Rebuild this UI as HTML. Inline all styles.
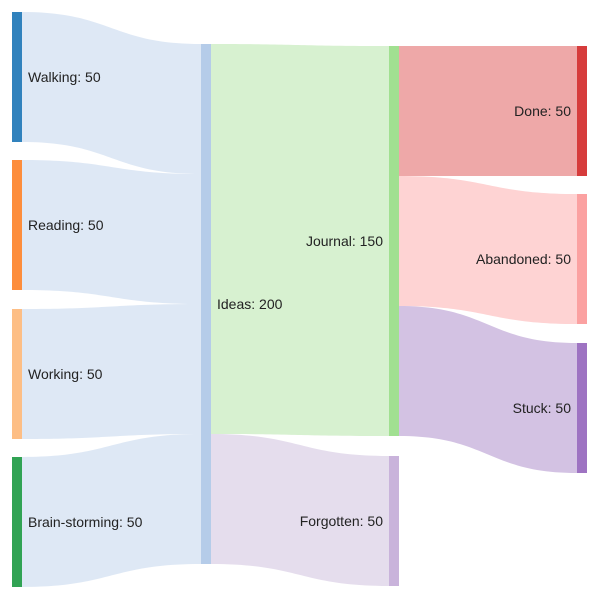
<!DOCTYPE html>
<html><head><meta charset="utf-8"><style>
html,body{margin:0;padding:0;background:#fff;width:600px;height:600px;overflow:hidden}
svg text{font-family:"Liberation Sans",Arial,sans-serif;font-size:14px;fill:#222}
</style></head><body>
<svg id="c" width="600" height="600"></svg>
<script>
const nodeNames=["Walking","Reading","Working","Brain-storming","Ideas","Journal","Forgotten","Done","Abandoned","Stuck"];
const nodeColumns=[0,0,0,0,1,2,2,3,3,3];
const nodeTops=[12,160,309,457,44,46,456,46,194,343];
const nodeColors=["#3182bd","#fd8d3c","#fdbe85","#31a354","#b5cce9","#a1e091","#c9b3db","#d63c3c","#fba1a1","#9e73c2"];
const linkColors=["#dde7f4","#dde7f4","#dde7f4","#dde7f4","#b5cce9","#d7f1d0","#e5dded","#eea8a8","#fed3d3","#d3c2e3"];
const linkSources=[0,1,2,3,4,4,5,5,5];
const linkTargets=[4,4,4,4,5,6,7,8,9];
const linkValues=[50,50,50,50,150,50,50,50,50];
const colX=[12,201,389,577], nodeW=10, k=2.6;
const svg=document.getElementById('c'), NS="http://www.w3.org/2000/svg";
const val=nodeNames.map((n,i)=>{let a=0,b=0;linkValues.forEach((v,j)=>{if(linkSources[j]===i)a+=v;if(linkTargets[j]===i)b+=v;});return Math.max(a,b);});
const outOff=nodeTops.slice(), inOff=nodeTops.slice();
const gL=document.createElementNS(NS,'g');svg.appendChild(gL);
linkValues.forEach((v,j)=>{
  const s=linkSources[j],t=linkTargets[j],h=v*k;
  const x0=colX[nodeColumns[s]]+nodeW,x1=colX[nodeColumns[t]];
  const y0=outOff[s],y1=inOff[t];outOff[s]+=h;inOff[t]+=h;
  const xm=(x0+x1)/2;
  const p=document.createElementNS(NS,'path');
  p.setAttribute('d',`M${x0},${y0}C${xm},${y0} ${xm},${y1} ${x1},${y1}L${x1},${y1+h}C${xm},${y1+h} ${xm},${y0+h} ${x0},${y0+h}Z`);
  p.setAttribute('fill',linkColors[t]);p.setAttribute('opacity',t===4?0.45:1);
  if(t===4)p.setAttribute('fill','#b5cce9');
  
  
  gL.appendChild(p);
});
nodeNames.forEach((n,i)=>{
  const x=colX[nodeColumns[i]],y=nodeTops[i],h=val[i]*k;
  const r=document.createElementNS(NS,'rect');
  r.setAttribute('x',x);r.setAttribute('y',y);r.setAttribute('width',nodeW);r.setAttribute('height',h);r.setAttribute('fill',nodeColors[i]);
  
  
  svg.appendChild(r);
  const t=document.createElementNS(NS,'text');
  const right=nodeColumns[i]<2;
  t.setAttribute('x',right?x+nodeW+6:x-6);t.setAttribute('y',y+h/2+5);
  t.setAttribute('text-anchor',right?'start':'end');
  t.textContent=n+': '+val[i];
  
  
  svg.appendChild(t);
});
</script></body></html>
